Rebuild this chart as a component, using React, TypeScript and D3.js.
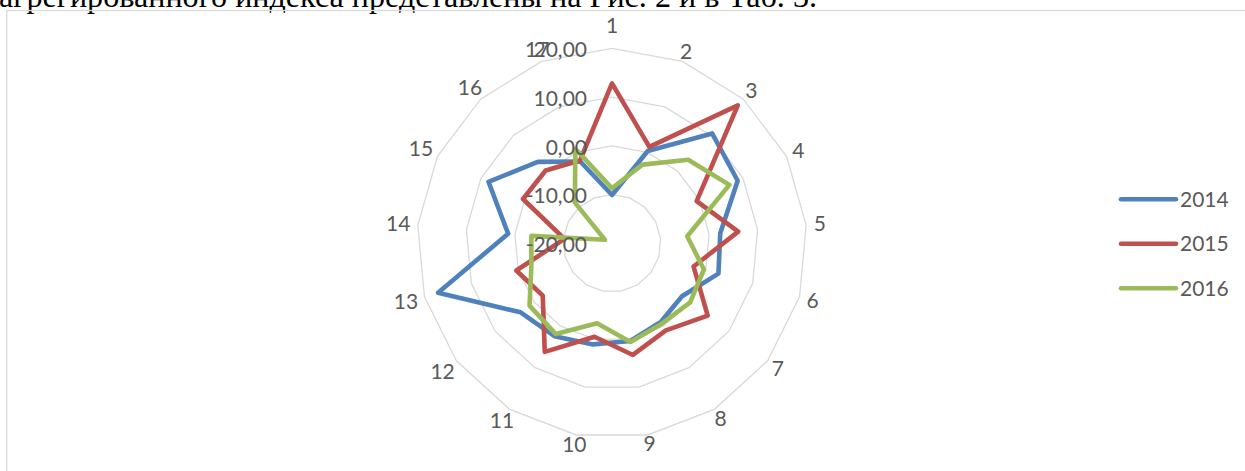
import * as d3 from "d3"

const CATEGORIES = ["1", "2", "3", "4", "5", "6", "7", "8", "9", "10", "11", "12", "13", "14", "15", "16", "17"]
const SERIES_NAMES = ["2014", "2015", "2016"]
const VALUES_2014 = [-10.1, 0.3, 10.5, 8.8, 2.3, 2.7, -2.0, -1.0, 0.4, 1.1, 2.4, 3.5, 17.1, 1.4, 8.3, 2.6, -2.0]
const VALUES_2015 = [12.8, 1.2, 18.3, -0.6, 6.0, -2.6, 4.6, 1.0, 3.3, -0.5, 6.2, -2.2, 0.4, -10.2, 0.4, 0.2, -1.8]
const VALUES_2016 = [-8.7, -2.7, 3.2, 6.9, -4.5, -0.4, 0.1, -0.6, 0.6, -3.3, 1.9, 1.2, -2.8, -3.4, -18.4, -8.7, 0.8]
const TICKS = [-20, -10, 0, 10, 20]
const CAPTION = "агрегированного индекса представлены на Рис. 2 и в Таб. 3."

const COLORS = ["#4F81BD", "#C0504D", "#9BBB59"]
const W = 1245, H = 471
const CX = 612, CY = 243.3, R = 195
const FONT = "Lato, 'Open Sans', sans-serif"
const LABEL_COLOR = "#595959"

const fmt = d3.formatLocale({ decimal: ",", thousands: " ", grouping: [3], currency: ["", ""], minus: "-" }).format(".2f")

export default function App() {
  const series = [VALUES_2014, VALUES_2015, VALUES_2016]
  const n = CATEGORIES.length
  const r = d3.scaleLinear().domain([TICKS[0], TICKS[TICKS.length - 1]]).range([0, R])
  const angle = d3.scaleLinear().domain([0, n]).range([0, 2 * Math.PI])

  const radial = d3.lineRadial<number>()
    .angle((_, i) => angle(i))
    .radius(v => r(v))
    .curve(d3.curveLinearClosed)

  const rings = TICKS.filter(t => t > TICKS[0])

  return (
    <svg width={W} height={H} style={{ position: "absolute", left: 0, top: 0, background: "#fff" }}>
      <text x={-1} y={7} fontFamily="'Liberation Serif', 'Times New Roman', serif" fontSize={32}
        textLength={818} lengthAdjust="spacingAndGlyphs" fill="#000">{CAPTION}</text>
      <rect x={6.7} y={10.5} width={W + 20} height={H + 20} fill="none" stroke="#d9d9d9" strokeWidth={1.3} />

      <g transform={`translate(${CX},${CY})`}>
        {rings.map(t => (
          <path key={t} d={radial(CATEGORIES.map(() => t)) ?? ""} fill="none" stroke="#d9d9d9" strokeWidth={1.3} />
        ))}

        {series.map((vals, k) => (
          <path key={SERIES_NAMES[k]} d={radial(vals) ?? ""} fill="none" stroke={COLORS[k]}
            strokeWidth={4.6} strokeLinejoin="round" strokeLinecap="round" />
        ))}

        {TICKS.map(t => (
          <text key={t} x={-25} y={-r(t) + 1.5} dy="0.35em" textAnchor="end"
            fontFamily={FONT} fontSize={21} fill={LABEL_COLOR}>{fmt(t)}</text>
        ))}

        {CATEGORIES.map((c, i) => {
          const a = angle(i)
          const sx = Math.sin(a), cy = -Math.cos(a)
          const halfW = c.length * 11.7 / 2
          const rr = 203 + Math.abs(sx) * halfW + (i === 0 ? 15 : 0)
          return (
            <text key={c} x={rr * sx} y={rr * cy} dy="0.35em" textAnchor="middle"
              fontFamily={FONT} fontSize={21} fill={LABEL_COLOR}>{c}</text>
          )
        })}
      </g>

      <g transform="translate(1120,199.3)">
        {SERIES_NAMES.map((name, k) => (
          <g key={name} transform={`translate(0,${k * 44.5})`}>
            <line x1={1} x2={56} stroke={COLORS[k]} strokeWidth={4.6} strokeLinecap="round" />
            <text x={60} dy="0.35em" fontFamily={FONT} fontSize={21} fill={LABEL_COLOR}>{name}</text>
          </g>
        ))}
      </g>
    </svg>
  )
}
